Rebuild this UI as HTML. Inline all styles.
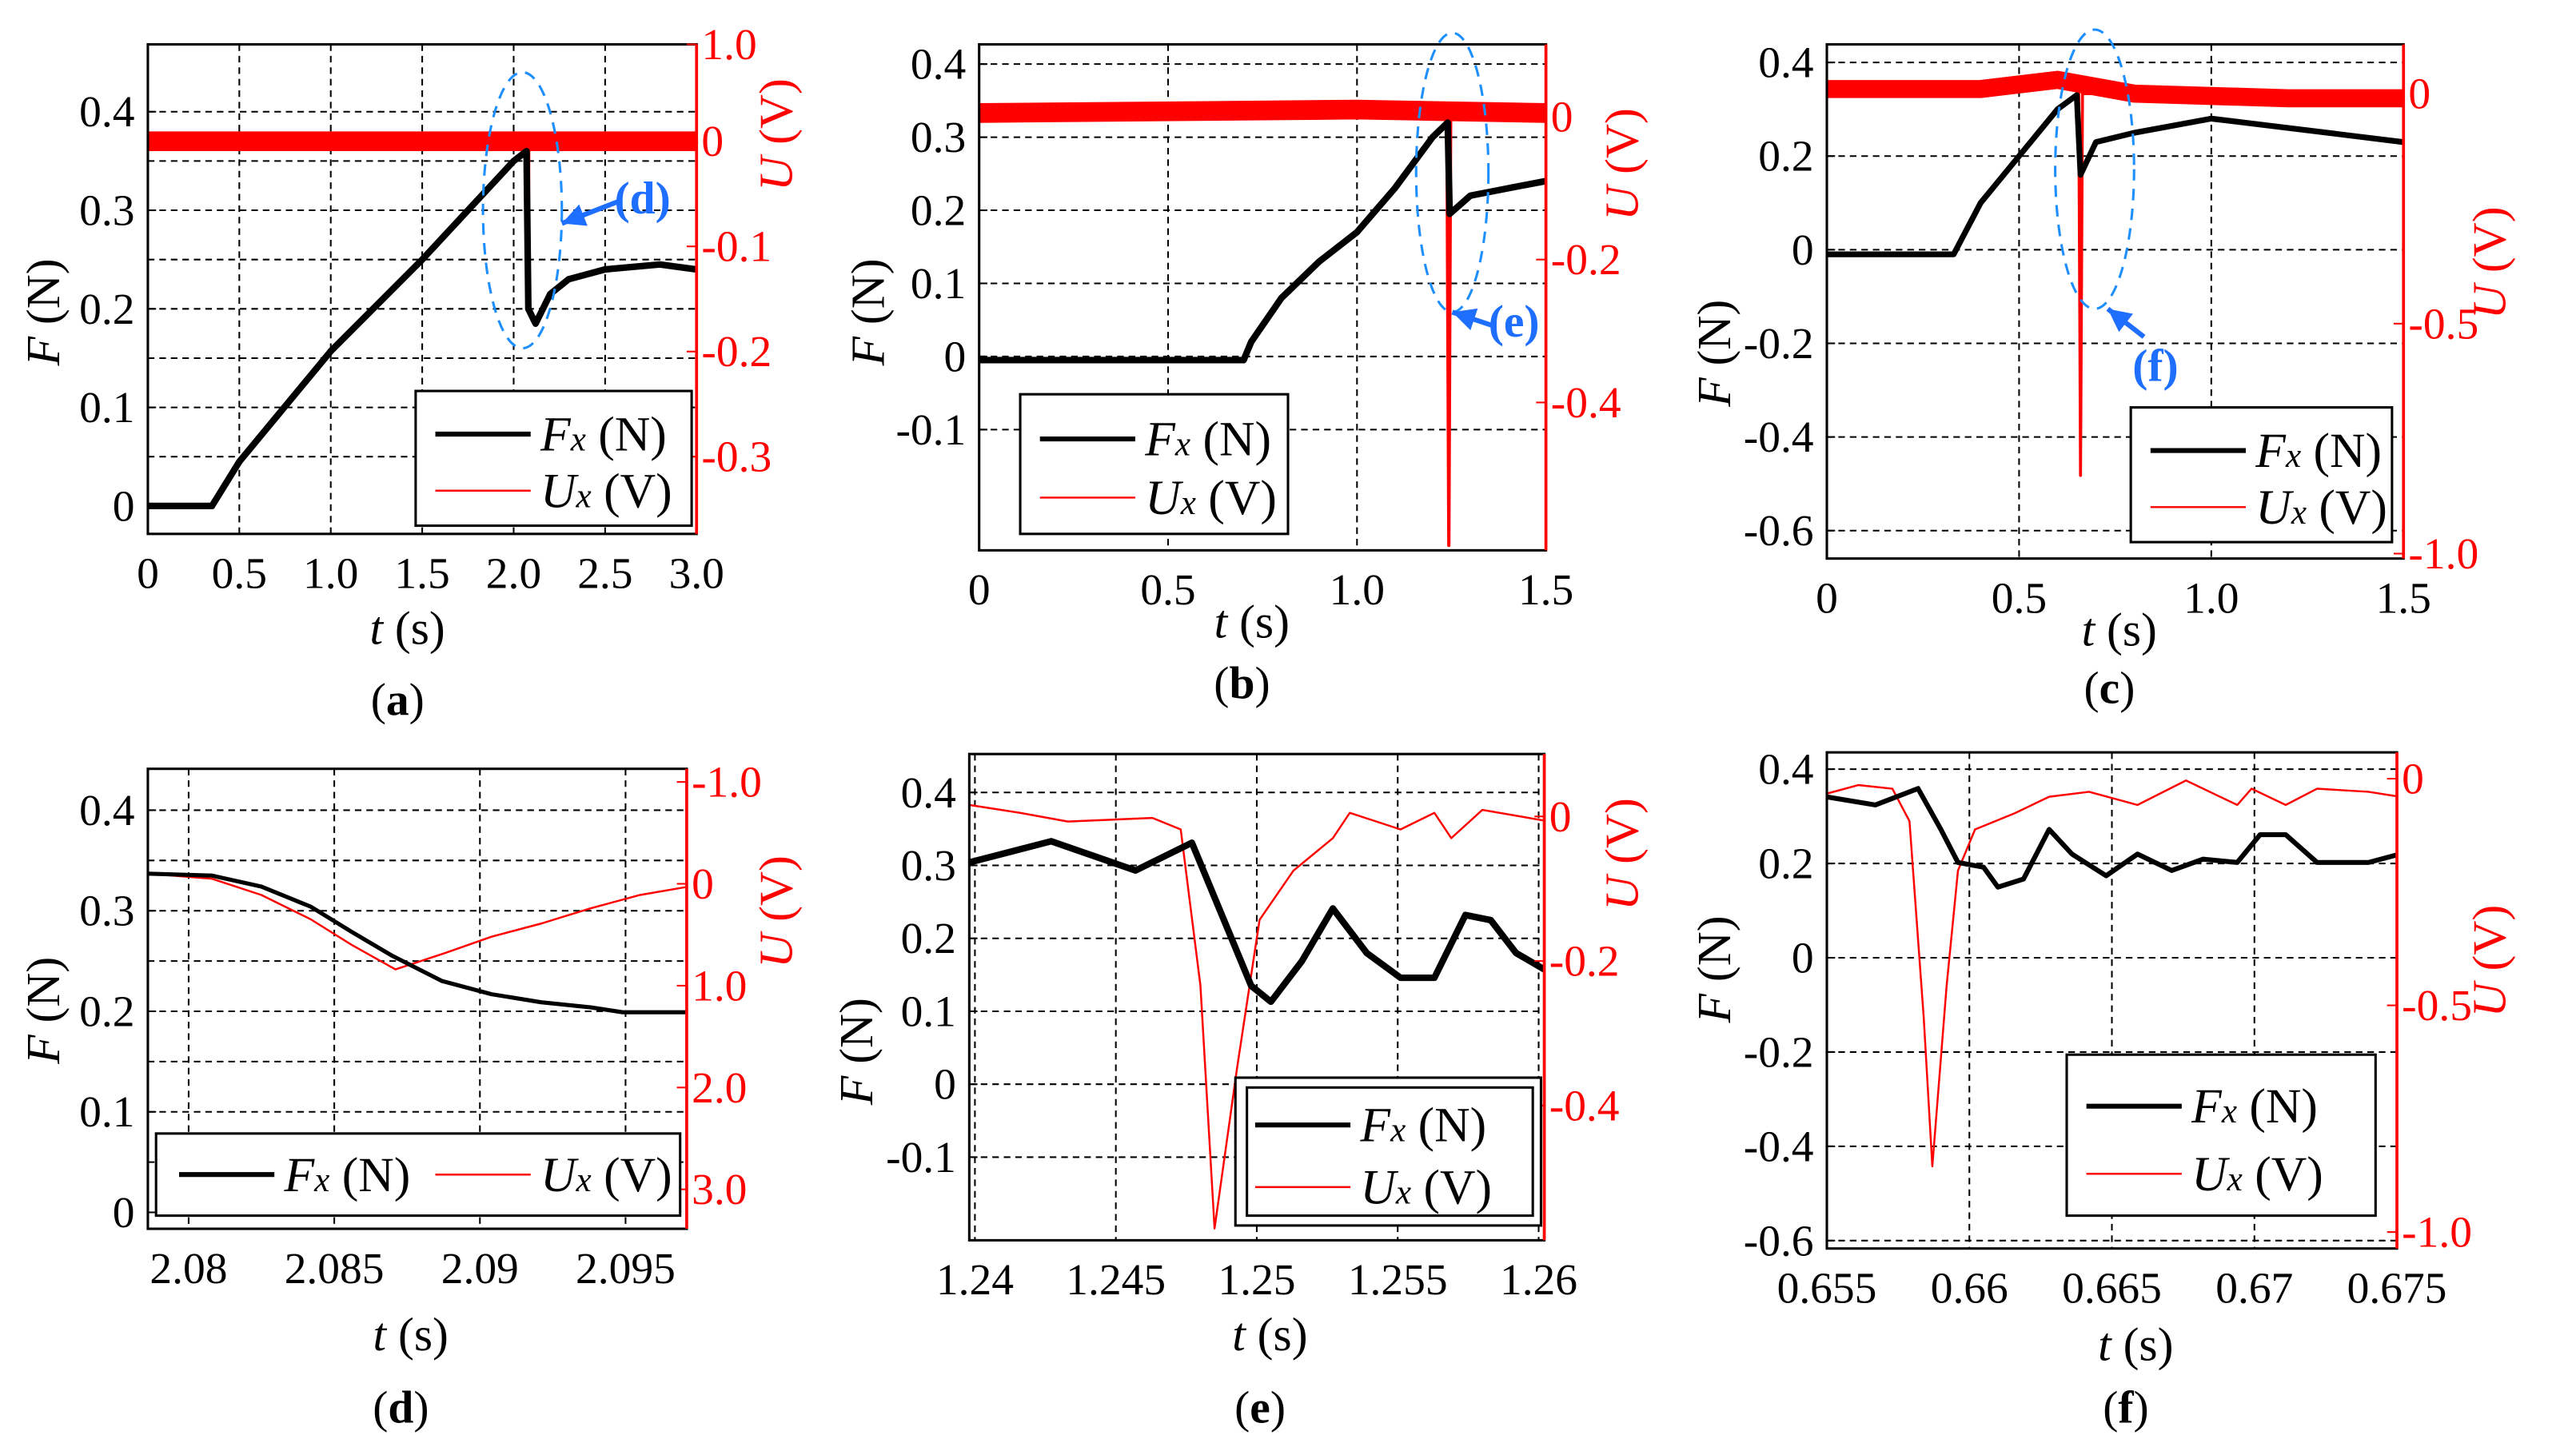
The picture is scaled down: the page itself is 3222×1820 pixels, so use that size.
<!DOCTYPE html>
<html><head><meta charset="utf-8"><style>
html,body{margin:0;padding:0;background:#fff;}
svg{display:block;font-family:"Liberation Serif",serif;}
</style></head><body>
<svg id="fig" width="3222" height="1820" viewBox="0 0 1568 885.7" xmlns="http://www.w3.org/2000/svg"></svg>
<script>
// ---- data (a) ----
const aT=[0,0.35,0.5,1.0,1.5,2.0,2.07,2.08,2.12,2.2,2.3,2.5,2.8,3.0];
const aF=[0,0,0.045,0.157,0.25,0.35,0.36,0.2,0.185,0.215,0.23,0.24,0.245,0.24];
const aBT=[0,3.0];
const aBU=[0,0];
const aUT=[0,2.07,2.078,2.08,2.082,2.09,3.0];
const aU=[0,0,-0.005,-0.11,-0.01,0,0];
// ---- data (b) ----
const bT=[0,0.7,0.72,0.8,0.9,1.0,1.1,1.2,1.24,1.245,1.3,1.4,1.5];
const bF=[-0.005,-0.005,0.02,0.08,0.13,0.17,0.23,0.3,0.32,0.195,0.22,0.23,0.24];
const bBT=[0,1.0,1.5];
const bBU=[0.005,0.01,0.005];
const bUT=[0,1.0,1.238,1.243,1.248,1.5];
const bU=[0,0.01,0.01,-0.6,0,0];
// ---- data (c) ----
const cT=[0,0.33,0.4,0.5,0.6,0.65,0.66,0.7,0.8,1.0,1.2,1.5];
const cF=[-0.01,-0.01,0.1,0.2,0.3,0.33,0.16,0.23,0.25,0.28,0.26,0.23];
const cBT=[0,0.4,0.6,0.8,1.2,1.5];
const cBU=[0.01,0.01,0.03,0.0,-0.01,-0.01];
const cUT=[0,0.4,0.6,0.655,0.66,0.665,0.8,1.2,1.5];
const cU=[0.01,0.01,0.03,0.02,-0.83,0,0.0,-0.01,-0.01];
// ---- data (d) ----
const dT=[2.0786,2.0808,2.0825,2.0842,2.0856,2.087,2.0887,2.0904,2.0921,2.0938,2.0949,2.0971];
const dF=[0.337,0.335,0.324,0.304,0.279,0.255,0.23,0.217,0.209,0.204,0.199,0.199];
const dUT=[2.0786,2.0808,2.0825,2.0842,2.0856,2.0871,2.0888,2.0904,2.0921,2.0938,2.0955,2.0971];
const dU=[-0.1,-0.05,0.11,0.35,0.6,0.84,0.68,0.52,0.39,0.24,0.11,0.03];
// ---- data (e) ----
const eT=[1.2398,1.2427,1.2457,1.2477,1.2498,1.2505,1.2516,1.2527,1.2539,1.2551,1.2563,1.2574,1.2583,1.2592,1.2604];
const eF=[0.304,0.333,0.293,0.331,0.135,0.113,0.169,0.241,0.18,0.146,0.146,0.232,0.225,0.18,0.153];
const eUT=[1.2398,1.2416,1.2433,1.2463,1.2473,1.248,1.2485,1.2493,1.2501,1.2513,1.2527,1.2533,1.2551,1.2563,1.2569,1.258,1.2604];
const eU=[0.016,0.005,-0.007,-0.002,-0.018,-0.234,-0.57,-0.348,-0.143,-0.075,-0.03,0.005,-0.018,0.005,-0.03,0.009,-0.007];
// ---- data (f) ----
const fT=[0.655,0.6567,0.6582,0.659,0.6596,0.6605,0.661,0.6619,0.6628,0.6636,0.6648,0.6659,0.6671,0.6682,0.6694,0.6702,0.6711,0.6722,0.674,0.6751];
const fF=[0.341,0.324,0.359,0.272,0.202,0.192,0.15,0.167,0.272,0.22,0.174,0.22,0.185,0.209,0.202,0.261,0.261,0.202,0.202,0.22];
const fUT=[0.655,0.6561,0.6573,0.6579,0.6584,0.6587,0.6592,0.6596,0.6602,0.6616,0.6628,0.6642,0.6659,0.6676,0.6694,0.6699,0.6711,0.6722,0.674,0.6751];
const fU=[-0.033,-0.014,-0.022,-0.094,-0.529,-0.855,-0.457,-0.203,-0.112,-0.076,-0.04,-0.029,-0.058,-0.004,-0.058,-0.022,-0.058,-0.022,-0.029,-0.04];
// tick labels
const aXT=[0,0.5,1.0,1.5,2.0,2.5,3.0], aXL=["0","0.5","1.0","1.5","2.0","2.5","3.0"];
const aFT=[0,0.1,0.2,0.3,0.4], aFL=["0","0.1","0.2","0.3","0.4"];
const aUTk=[0.1,0,-0.1,-0.2,-0.3], aUL=["1.0","0","-0.1","-0.2","-0.3"];
const bXT=[0,0.5,1.0,1.5], bXL=["0","0.5","1.0","1.5"];
const bFT=[-0.1,0,0.1,0.2,0.3,0.4], bFL=["-0.1","0","0.1","0.2","0.3","0.4"];
const bUTk=[0,-0.2,-0.4], bUL=["0","-0.2","-0.4"];
const cXT=[0,0.5,1.0,1.5], cXL=["0","0.5","1.0","1.5"];
const cFT=[-0.6,-0.4,-0.2,0,0.2,0.4], cFL=["-0.6","-0.4","-0.2","0","0.2","0.4"];
const cUTk=[0,-0.5,-1.0], cUL=["0","-0.5","-1.0"];
const dXT=[2.08,2.085,2.09,2.095], dXL=["2.08","2.085","2.09","2.095"];
const dFT=[0,0.1,0.2,0.3,0.4], dFL=["0","0.1","0.2","0.3","0.4"];
const dUTk=[-1,0,1,2,3], dUL=["-1.0","0","1.0","2.0","3.0"];
const eXT=[1.24,1.245,1.25,1.255,1.26], eXL=["1.24","1.245","1.25","1.255","1.26"];
const eFT=[-0.1,0,0.1,0.2,0.3,0.4], eFL=["-0.1","0","0.1","0.2","0.3","0.4"];
const eUTk=[0,-0.2,-0.4], eUL=["0","-0.2","-0.4"];
const fXT=[0.655,0.66,0.665,0.67,0.675], fXL=["0.655","0.66","0.665","0.67","0.675"];
const fFT=[-0.6,-0.4,-0.2,0,0.2,0.4], fFL=["-0.6","-0.4","-0.2","0","0.2","0.4"];
const fUTk=[0,-0.5,-1.0], fUL=["0","-0.5","-1.0"];

const NS="http://www.w3.org/2000/svg";
const svg=document.getElementById('fig');
function mk(tag,attrs,parent,txt){const e=document.createElementNS(NS,tag);for(const k in attrs)e.setAttribute(k,attrs[k]);if(txt!==undefined)e.textContent=txt;(parent||svg).appendChild(e);return e;}

function panel(c){
  const g=mk('g',{});
  
  
  const X=t=>c.x0+(t-c.t0)*(c.x1-c.x0)/(c.t1-c.t0);
  const YF=v=>c.fy0-v*c.fpx;
  const YU=v=>c.uy0-v*c.upx;
  c.xt.forEach(t=>{const x=X(t);if(x>c.x0+2&&x<c.x1-2){const l=mk('line',{x1:x,x2:x,y1:c.y0,y2:c.y1,stroke:'#000','stroke-width':1,'stroke-dasharray':'4,3'},g);}});
  c.fg.forEach(v=>{const y=YF(v);if(y>c.y0+2&&y<c.y1-2){const l=mk('line',{x1:c.x0,x2:c.x1,y1:y,y2:y,stroke:'#000','stroke-width':1,'stroke-dasharray':'4,3'},g);}});
  const clip='clip'+c.id;
  const cp=mk('clipPath',{id:clip},g);mk('rect',{x:c.x0,y:c.y0,width:c.x1-c.x0,height:c.y1-c.y0},cp);
  if(c.bt){const b=mk('polyline',{points:c.bt.map((t,i)=>X(t).toFixed(1)+','+YU(c.bu[i]).toFixed(1)).join(' '),fill:'none',stroke:'#f00','stroke-width':c.bw,'clip-path':'url(#'+clip+')'},g);}
  const ul=mk('polyline',{points:c.ut.map((t,i)=>X(t).toFixed(1)+','+YU(c.u[i]).toFixed(1)).join(' '),fill:'none',stroke:'#f00','stroke-width':c.uw,'stroke-linejoin':'round','clip-path':'url(#'+clip+')'},g);
  
  const fl=mk('polyline',{points:c.ft.map((t,i)=>X(t).toFixed(1)+','+YF(c.f[i]).toFixed(1)).join(' '),fill:'none',stroke:'#000','stroke-width':c.fw,'stroke-linejoin':'round','clip-path':'url(#'+clip+')'},g);
  
  mk('rect',{x:c.x0,y:c.y0,width:c.x1-c.x0,height:c.y1-c.y0,fill:'none',stroke:'#000','stroke-width':1.5},g);
  mk('line',{x1:c.x1,x2:c.x1,y1:c.y0,y2:c.y1,stroke:'#f00','stroke-width':1.8},g);
  c.xt.forEach((t,i)=>{const tx=mk('text',{x:X(t),y:c.y1+33,'font-size':27,'text-anchor':'middle'},g,c.xl[i]);});
  c.ftk.forEach((v,i)=>{const y=YF(v);mk('line',{x1:c.x0,x2:c.x0+5,y1:y,y2:y,stroke:'#000'},g);const tx=mk('text',{x:c.x0-8,y:y+9,'font-size':27,'text-anchor':'end'},g,c.fl[i]);});
  c.utk.forEach((v,i)=>{const y=c.ulabY&&c.ulabY[i]!==undefined?c.ulabY[i]:YU(v);mk('line',{x1:c.x1-6,x2:c.x1,y1:y,y2:y,stroke:'#f00'},g);const tx=mk('text',{x:c.x1+3,y:y+9,'font-size':27,fill:'#f00'},g,c.ul[i]);});
  const fy=mk('text',{transform:`translate(${c.fTitleX},${c.fTitleY}) rotate(-90)`,'font-size':29,'text-anchor':'middle'},g);
  
  mk('tspan',{'font-style':'italic'},fy,'F');mk('tspan',{},fy,' (N)');
  const uy=mk('text',{transform:`translate(${c.uTitleX},${c.uTitleY}) rotate(-90)`,'font-size':29,'text-anchor':'middle',fill:'#f00'},g);
  
  mk('tspan',{'font-style':'italic'},uy,'U');mk('tspan',{},uy,' (V)');
  const tt=mk('text',{x:c.tTitleX,y:c.tTitleY,'font-size':29,'text-anchor':'middle'},g);
  
  mk('tspan',{'font-style':'italic'},tt,'t');mk('tspan',{},tt,' (s)');
  const pl=mk('text',{x:c.tTitleX-6,y:c.labY,'font-size':28,'text-anchor':'middle'},g);
  
  mk('tspan',{},pl,'(');mk('tspan',{'font-weight':'bold'},pl,c.id);mk('tspan',{},pl,')');
  const L=c.leg;const lg=mk('g',{},g);
  
  mk('rect',{x:L.x,y:L.y,width:L.w,height:L.h,fill:'#fff',stroke:'#000','stroke-width':1.5},lg);
  if(L.inner)mk('rect',{x:L.x+7,y:L.y+6,width:L.w-12,height:L.h-12,fill:'none',stroke:'#000','stroke-width':1.5},lg);
  function entry(lx,ly,col,w,sym,unit){mk('line',{x1:lx,x2:lx+58,y1:ly,y2:ly,stroke:col,'stroke-width':w},lg);const t=mk('text',{x:lx+64,y:ly+10,'font-size':30},lg);mk('tspan',{'font-style':'italic'},t,sym);mk('tspan',{'font-style':'italic','font-size':21},t,'x');mk('tspan',{},t,' '+unit);}
  if(L.row){entry(L.x+14,L.y+L.h/2,'#000',3,'F','(N)');entry(L.x+170,L.y+L.h/2,'#f00',1.2,'U','(V)');}
  else{entry(L.x+12,L.y+L.h*0.32,'#000',3,'F','(N)');entry(L.x+12,L.y+L.h*0.74,'#f00',1.2,'U','(V)');}
  if(c.ell){const e=c.ell;const el=mk('ellipse',{cx:e.cx,cy:e.cy,rx:e.rx,ry:e.ry,fill:'none',stroke:'#1e8fff','stroke-width':1.5,'stroke-dasharray':'7,5'},g);
    mk('line',{x1:e.ax1,y1:e.ay1,x2:e.ax2,y2:e.ay2,stroke:'#1e6fff','stroke-width':3},g);
    const dx=e.ax2-e.ax1,dy=e.ay2-e.ay1,len=Math.hypot(dx,dy),ux=dx/len,uy2=dy/len;
    const bx=e.ax2-ux*14,by=e.ay2-uy2*14;
    mk('polygon',{points:`${e.ax2},${e.ay2} ${bx-uy2*7},${by+ux*7} ${bx+uy2*7},${by-ux*7}`,fill:'#1e6fff'},g);
    const at=mk('text',{x:e.tx,y:e.ty,'font-size':28,'font-weight':'bold',fill:'#1e6fff'},g,e.txt);}
}

panel({id:'a',x0:90,x1:424,y0:27,y1:325,t0:0,t1:3.0,fy0:308,fpx:600,uy0:86,upx:640,
  xt:aXT,xl:aXL,ftk:aFT,fl:aFL,fg:[0.05,0.1,0.15,0.2,0.25,0.3,0.35,0.4],utk:aUTk,ul:aUL,ulabY:[27],
  ft:aT,f:aF,ut:aUT,u:aU,uw:2,fw:4,bt:aBT,bu:aBU,bw:12,
  fTitleX:36,fTitleY:190,uTitleX:482,uTitleY:82,tTitleX:248,tTitleY:392,labY:435,
  leg:{x:253,y:238,w:168,h:82},
  ell:{cx:318,cy:128,rx:24,ry:84,ax1:378,ay1:122,ax2:342,ay2:136,tx:374,ty:130,txt:'(d)'}});
panel({id:'b',x0:596,x1:941,y0:27,y1:335,t0:0,t1:1.5,fy0:217,fpx:445,uy0:71,upx:435,
  xt:bXT,xl:bXL,ftk:bFT,fl:bFL,fg:bFT,utk:bUTk,ul:bUL,
  ft:bT,f:bF,ut:bUT,u:bU,uw:2,fw:4,bt:bBT,bu:bBU,bw:12,
  fTitleX:538,fTitleY:190,uTitleX:997,uTitleY:100,tTitleX:762,tTitleY:388,labY:425,
  leg:{x:621,y:240,w:163,h:85},
  ell:{cx:884,cy:105,rx:22,ry:85,ax1:908,ay1:198,ax2:884,ay2:190,tx:906,ty:205,txt:'(e)'}});
panel({id:'c',x0:1112,x1:1463,y0:27,y1:340,t0:0,t1:1.5,fy0:152,fpx:285,uy0:57,upx:280,
  xt:cXT,xl:cXL,ftk:cFT,fl:cFL,fg:[-0.6,-0.4,-0.2,0,0.2,0.4],utk:cUTk,ul:cUL,
  ft:cT,f:cF,ut:cUT,u:cU,uw:1.8,fw:3.5,bt:cBT,bu:cBU,bw:11,
  fTitleX:1053,fTitleY:215,uTitleX:1525,uTitleY:160,tTitleX:1290,tTitleY:393,labY:428,
  leg:{x:1297,y:248,w:159,h:82},
  ell:{cx:1275,cy:103,rx:24,ry:85,ax1:1305,ay1:205,ax2:1283,ay2:188,tx:1298,ty:232,txt:'(f)'}});
panel({id:'d',x0:90,x1:418,y0:468,y1:748,t0:2.0786,t1:2.0971,fy0:738,fpx:612,uy0:538,upx:-62,
  xt:dXT,xl:dXL,ftk:dFT,fl:dFL,fg:[0.05,0.1,0.15,0.2,0.25,0.3,0.35,0.4],utk:dUTk,ul:dUL,
  ft:dT,f:dF,ut:dUT,u:dU,uw:1.2,fw:2.5,
  fTitleX:36,fTitleY:615,uTitleX:482,uTitleY:555,tTitleX:250,tTitleY:822,labY:866,
  leg:{x:95,y:690,w:319,h:50,row:true}});
panel({id:'e',x0:590,x1:940,y0:459,y1:755,t0:1.2398,t1:1.2602,fy0:660,fpx:444,uy0:497,upx:440,
  xt:eXT,xl:eXL,ftk:eFT,fl:eFL,fg:eFT,utk:eUTk,ul:eUL,
  ft:eT,f:eF,ut:eUT,u:eU,uw:1.2,fw:4,
  fTitleX:531,fTitleY:640,uTitleX:997,uTitleY:520,tTitleX:773,tTitleY:822,labY:866,
  leg:{x:752,y:656,w:186,h:90,inner:true}});
panel({id:'f',x0:1112,x1:1459,y0:458,y1:760,t0:0.655,t1:0.675,fy0:583,fpx:287,uy0:474,upx:276,
  xt:fXT,xl:fXL,ftk:fFT,fl:fFL,fg:fFT,utk:fUTk,ul:fUL,
  ft:fT,f:fF,ut:fUT,u:fU,uw:1.2,fw:3,
  fTitleX:1053,fTitleY:590,uTitleX:1525,uTitleY:585,tTitleX:1300,tTitleY:828,labY:866,
  leg:{x:1258,y:642,w:188,h:98}});
</script>
</body></html>
